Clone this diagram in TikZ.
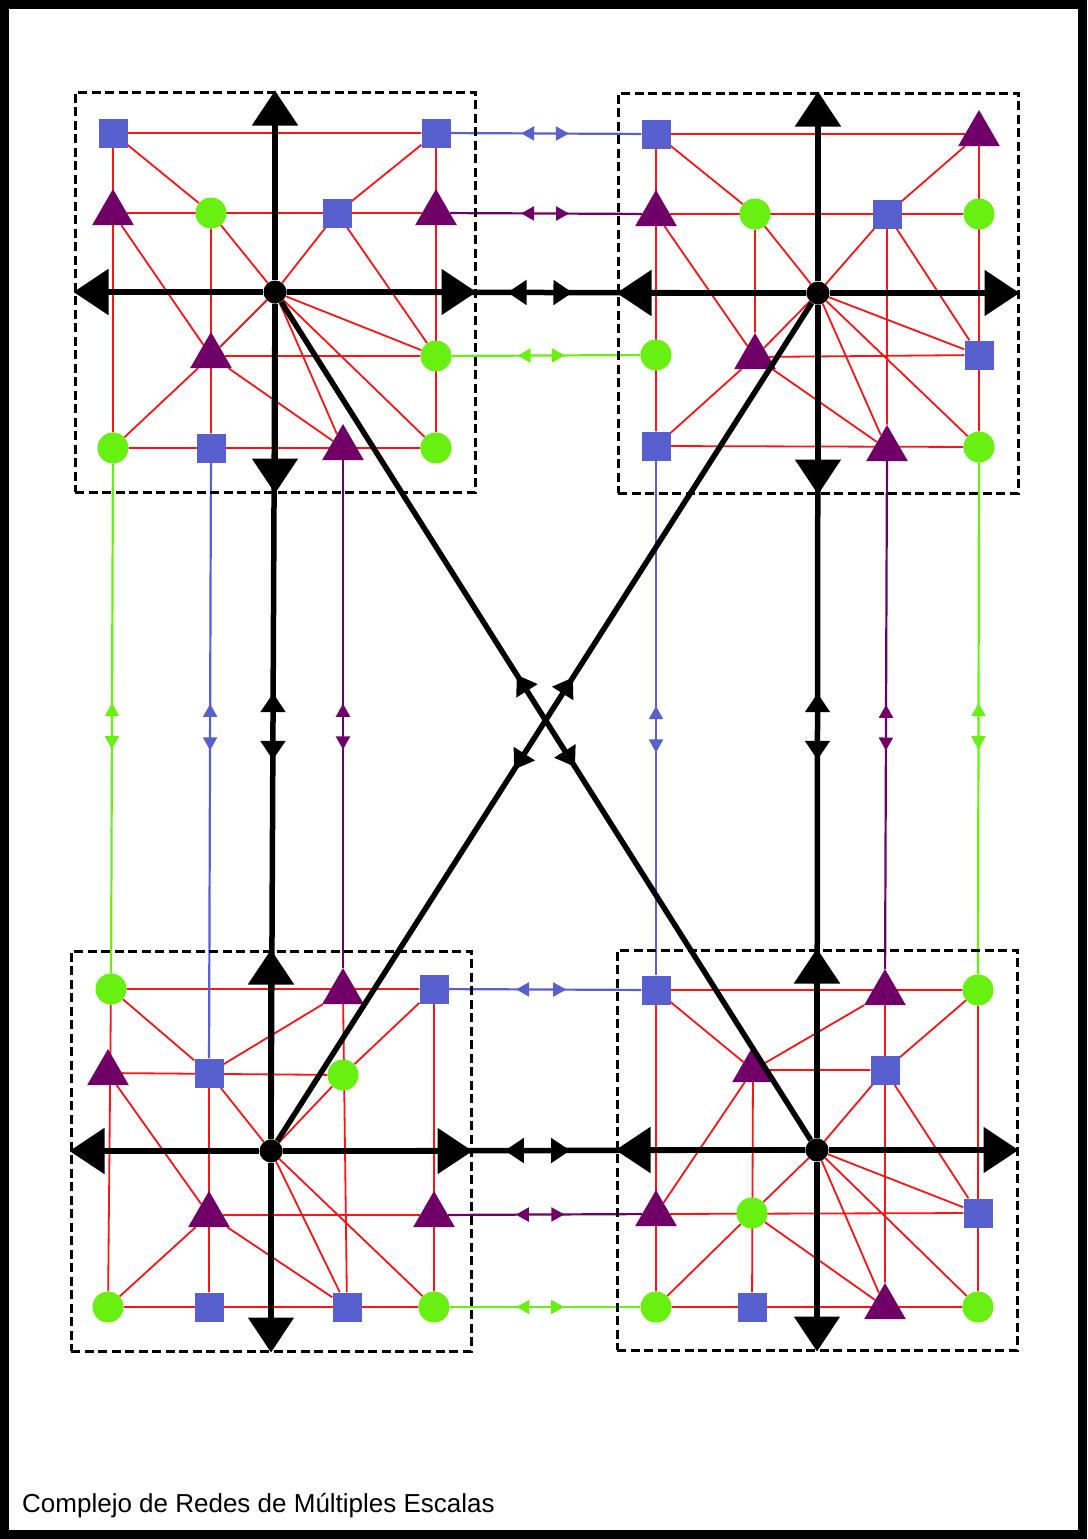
\documentclass[tikz,border=0pt]{standalone}
\usepackage{fontspec}
\setmainfont{Liberation Sans}
\usetikzlibrary{arrows.meta,shapes.geometric,decorations.markings,backgrounds}

\definecolor{nodeblue}{RGB}{88,96,208}
\definecolor{nodegreen}{RGB}{104,240,16}
\definecolor{nodepurple}{RGB}{112,0,104}
\definecolor{wirered}{RGB}{250,20,20}

\begin{document}
\begin{tikzpicture}[
  x=1pt, y=-1pt,
  sq/.style={rectangle, fill=nodeblue, minimum size=29pt, inner sep=0pt},
  dot/.style={circle, fill=nodegreen, minimum size=31pt, inner sep=0pt},
  tri/.style={regular polygon, regular polygon sides=3, fill=nodepurple,
              minimum size=48pt, inner sep=0pt},
  hub/.style={circle, fill=black, minimum size=23pt, inner sep=0pt},
  cell/.style={rectangle, draw, line width=3pt, dash pattern=on 9pt off 4.5pt,
               minimum width=400pt, minimum height=400pt, inner sep=0pt},
  wire/.style={wirered, line width=1.8pt},
  axis/.style={line width=5.5pt, -{Triangle[length=35pt, width=45pt]}},
  link/.style n args={3}{#1, line width=2.2pt,
    decoration={markings,
      mark=at position #2 with {\arrowreversed{Triangle[length=13pt, width=14pt]}},
      mark=at position #3 with {\arrow{Triangle[length=13pt, width=14pt]}}},
    postaction={decorate}},
  blink/.style 2 args={line width=5.5pt,
    decoration={markings,
      mark=at position #1 with {\arrowreversed{Triangle[length=19pt, width=24pt]}},
      mark=at position #2 with {\arrow{Triangle[length=19pt, width=24pt]}}},
    postaction={decorate}}
]
\useasboundingbox (0,0) rectangle (1087,1539);
\draw[line width=9pt] (4.5,4.5) rectangle (1082.5,1534);

% top left cell
\begin{scope}[shift={(275,292)}]
\node[cell] (tl-box) at (0,0) {};
\node[hub] (tl) at (0,0) {};
\node[sq]  (tl-a1) at (-162,-159) {};
\node[sq]  (tl-d1) at (161,-159) {};
\node[tri] (tl-a2) at (-162,-79) {};
\node[dot] (tl-b2) at (-64,-79) {};
\node[sq]  (tl-c2) at (62,-79) {};
\node[tri] (tl-d2) at (161,-79) {};
\node[tri] (tl-b3) at (-64,64) {};
\node[dot] (tl-d3) at (161,64) {};
\node[dot] (tl-a4) at (-162,156) {};
\node[sq]  (tl-b4) at (-64,156) {};
\node[tri] (tl-c4) at (68,156) {};
\node[dot] (tl-d4) at (161,156) {};
\end{scope}

% top right cell
\begin{scope}[shift={(818,293)}]
\node[cell] (tr-box) at (0,0) {};
\node[hub] (tr) at (0,0) {};
\node[sq]  (tr-a1) at (-162,-159) {};
\node[tri] (tr-d1) at (161,-159) {};
\node[tri] (tr-a2) at (-162,-79) {};
\node[dot] (tr-b2) at (-63,-79) {};
\node[sq]  (tr-c2) at (69,-79) {};
\node[dot] (tr-d2) at (161,-79) {};
\node[dot] (tr-a3) at (-162,62) {};
\node[tri] (tr-b3) at (-63,64) {};
\node[sq]  (tr-d3) at (161,62) {};
\node[sq]  (tr-a4) at (-162,153) {};
\node[tri] (tr-c4) at (69,156) {};
\node[dot] (tr-d4) at (161,154) {};
\end{scope}

% bottom left cell
\begin{scope}[shift={(271,1151)}]
\node[cell] (bl-box) at (0,0) {};
\node[hub] (bl) at (0,0) {};
\node[dot] (bl-a1) at (-160,-162) {};
\node[tri] (bl-c1) at (72,-159) {};
\node[sq]  (bl-d1) at (163,-162) {};
\node[tri] (bl-a2) at (-163,-78) {};
\node[sq]  (bl-b2) at (-62,-78) {};
\node[dot] (bl-c2) at (72,-76) {};
\node[tri] (bl-b3) at (-62,64) {};
\node[tri] (bl-d3) at (163,64) {};
\node[dot] (bl-a4) at (-163,156) {};
\node[sq]  (bl-b4) at (-62,156) {};
\node[sq]  (bl-c4) at (76,156) {};
\node[dot] (bl-d4) at (163,156) {};
\end{scope}

% bottom right cell
\begin{scope}[shift={(817,1150)}]
\node[cell] (br-box) at (0,0) {};
\node[hub] (br) at (0,0) {};
\node[sq]  (br-a1) at (-161,-160) {};
\node[tri] (br-c1) at (68,-157) {};
\node[dot] (br-d1) at (161,-160) {};
\node[tri] (br-b2) at (-64,-80) {};
\node[sq]  (br-c2) at (68,-80) {};
\node[tri] (br-a3) at (-161,64) {};
\node[dot] (br-b3) at (-65,63) {};
\node[sq]  (br-d3) at (161,63) {};
\node[dot] (br-a4) at (-161,157) {};
\node[sq]  (br-b4) at (-65,157) {};
\node[tri] (br-c4) at (68,157) {};
\node[dot] (br-d4) at (161,157) {};
\end{scope}

\begin{scope}[on background layer]
% red edges inside the cells
\draw[wire] (tl-a1) -- (tl-d1) (tl-a1) -- (tl-a4) (tl-d1) -- (tl-d4) (tl-a4) -- (tl-d4)
  (tl-a2) -- (tl-d2) (tl-b3) -- (tl-d3) (tl-b2) -- (tl-b4) (tl-a1) -- (tl-b2)
  (tl-b2) -- (tl) (tl-d1) -- (tl-c2) (tl-c2) -- (tl) (tl-a2) -- (tl-b3)
  (tl-c2) -- (tl-d3) (tl) -- (tl-d3) (tl) -- (tl-b3) (tl-b3) -- (tl-a4)
  (tl-b3) -- (tl-c4) (tl) -- (tl-c4) (tl) -- (tl-d4);
\draw[wire] (tr-a1) -- (tr-d1) (tr-a1) -- (tr-a4) (tr-d1) -- (tr-d4) (tr-a4) -- (tr-d4)
  (tr-a2) -- (tr-d2) (tr-b3) -- (tr-d3) (tr-b2) -- (tr-b3) (tr-c2) -- (tr-c4)
  (tr-a1) -- (tr-b2) (tr-b2) -- (tr) (tr-d1) -- (tr-c2) (tr-c2) -- (tr)
  (tr-a2) -- (tr-b3) (tr-c2) -- (tr-d3) (tr) -- (tr-d3) (tr) -- (tr-b3)
  (tr-b3) -- (tr-a4) (tr-b3) -- (tr-c4) (tr) -- (tr-c4) (tr) -- (tr-d4);
\draw[wire] (bl-a1) -- (bl-d1) (bl-a1) -- (bl-a4) (bl-d1) -- (bl-d4) (bl-a4) -- (bl-d4)
  (bl-a2) -- (bl-c2) (bl-b3) -- (bl-d3) (bl-b2) -- (bl-b4) (bl-c1) -- (bl-c4)
  (bl-a1) -- (bl-b2) (bl-b2) -- (bl-c1) (bl-b2) -- (bl) (bl-d1) -- (bl-c2)
  (bl-c2) -- (bl) (bl-a2) -- (bl-b3) (bl-b3) -- (bl-a4) (bl-b3) -- (bl-c4)
  (bl) -- (bl-c4) (bl) -- (bl-d4);
\draw[wire] (br-a1) -- (br-d1) (br-a1) -- (br-a4) (br-d1) -- (br-d4) (br-a4) -- (br-d4)
  (br-b2) -- (br-c2) (br-a3) -- (br-d3) (br-b2) -- (br-b4) (br-c1) -- (br-c4)
  (br-a1) -- (br-b2) (br-b2) -- (br-c1) (br-d1) -- (br-c2) (br-c2) -- (br)
  (br-b2) -- (br-a3) (br-c2) -- (br-d3) (br) -- (br-d3) (br) -- (br-b3)
  (br-b3) -- (br-a4) (br-b3) -- (br-c4) (br) -- (br-c4) (br) -- (br-d4);
% coloured links between the cells
\draw[link={nodeblue}{0.37}{0.62}] (tl-d1) -- (tr-a1);
\draw[link={nodepurple}{0.37}{0.62}] (tl-d2) -- (tr-a2);
\draw[link={nodegreen}{0.35}{0.6}] (tl-d3) -- (tr-a3);
\draw[link={nodeblue}{0.35}{0.61}] (bl-d1) -- (br-a1);
\draw[link={nodepurple}{0.35}{0.6}] (bl-d3) -- (br-a3);
\draw[link={nodegreen}{0.35}{0.6}] (bl-d4) -- (br-a4);
\draw[link={nodegreen}{0.47}{0.56}] (tl-a4) -- (bl-a1);
\draw[link={nodeblue}{0.405}{0.483}] (tl-b4) -- (bl-b2);
\draw[link={nodepurple}{0.48}{0.57}] (tl-c4) -- (bl-c1);
\draw[link={nodeblue}{0.477}{0.567}] (tr-a4) -- (br-a1);
\draw[link={nodepurple}{0.48}{0.57}] (tr-c4) -- (br-c1);
\draw[link={nodegreen}{0.47}{0.56}] (tr-d4) -- (br-d1);
\end{scope}

% black links between the hubs
\draw[blink={0.425}{0.55}] (tl) -- (tr);
\draw[blink={0.425}{0.55}] (bl) -- (br);
\draw[blink={0.466}{0.546}] (tl) -- (bl);
\draw[blink={0.466}{0.546}] (tr) -- (br);
\draw[blink={0.445}{0.555}] (tl) -- (br);
\draw[blink={0.447}{0.557}] (tr) -- (bl);

% axes of each cell
\path (tl) edge[axis] (tl-box.north) edge[axis] (tl-box.south) edge[axis] (tl-box.east) edge[axis] (tl-box.west);
\path (tr) edge[axis] (tr-box.north) edge[axis] (tr-box.south) edge[axis] (tr-box.east) edge[axis] (tr-box.west);
\path (bl) edge[axis] (bl-box.north) edge[axis] (bl-box.south) edge[axis] (bl-box.east) edge[axis] (bl-box.west);
\path (br) edge[axis] (br-box.north) edge[axis] (br-box.south) edge[axis] (br-box.east) edge[axis] (br-box.west);

\node[anchor=base west, inner sep=0pt, font=\fontsize{26pt}{30pt}\selectfont] (title) at (22,1512)
  {Complejo de Redes de Múltiples Escalas};
\end{tikzpicture}
\end{document}
